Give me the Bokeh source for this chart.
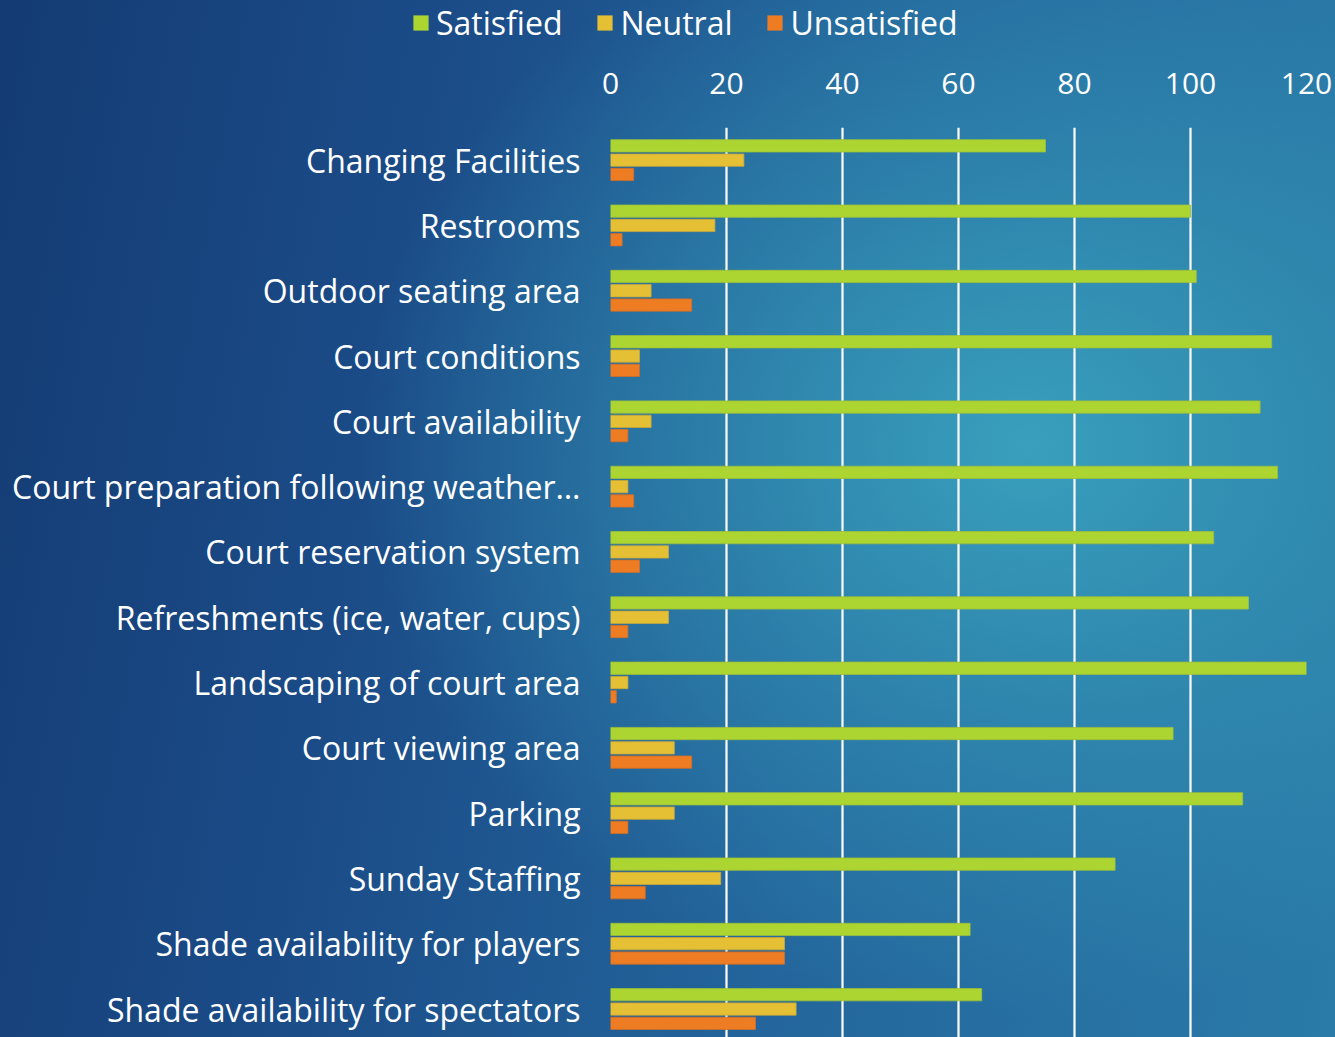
import numpy as np
from bokeh.plotting import figure
from bokeh.layouts import column
from bokeh.models import (ColumnDataSource, Range1d, FixedTicker, Legend, LegendItem,
                          GlobalInlineStyleSheet)
from bokeh.transform import dodge
from bokeh.embed import file_html
from bokeh.resources import INLINE

categories = [
    "Changing Facilities",
    "Restrooms",
    "Outdoor seating area",
    "Court conditions",
    "Court availability",
    "Court preparation following weather\u2026",
    "Court reservation system",
    "Refreshments (ice, water, cups)",
    "Landscaping of court area",
    "Court viewing area",
    "Parking",
    "Sunday Staffing",
    "Shade availability for players",
    "Shade availability for spectators",
]
satisfied = [75, 100, 101, 114, 112, 115, 104, 110, 120, 97, 109, 87, 62, 64]
neutral = [23, 18, 7, 5, 7, 3, 10, 10, 3, 11, 11, 19, 30, 32]
unsatisfied = [4, 2, 14, 5, 3, 4, 5, 3, 1, 14, 3, 6, 30, 25]
series_names = ["Satisfied", "Neutral", "Unsatisfied"]
series_cols = ["satisfied", "neutral", "unsatisfied"]
series_colors = ["#add532", "#e6c034", "#ee7c23"]
series_lines = ["#9cbf3a", "#c9a83a", "#cf6e2a"]
x_ticks = [0, 20, 40, 60, 80, 100, 120]

FONT = "Open Sans"
W, H = 1335, 1037
LEG_H = 50

bg = ("radial-gradient(ellipse 50% 55% at 77% 43%, rgba(58,162,190,0.95) 0%, "
      "rgba(52,150,182,0.55) 50%, rgba(45,130,170,0) 100%), "
      "linear-gradient(100deg, #143b73 0%, #1b4c88 30%, #23659c 62%, #2a7ba8 100%)")
css = GlobalInlineStyleSheet(css=(
    "html, body { margin: 0; padding: 0; overflow: hidden; width: 100%; height: 100%; "
    f"background: {bg}; }}"))

src = ColumnDataSource(dict(
    y=list(range(len(categories))),
    cat=categories,
    satisfied=satisfied,
    neutral=neutral,
    unsatisfied=unsatisfied,
))

# ---------------- legend strip ----------------
pl = figure(
    width=W, height=LEG_H, output_backend="svg", toolbar_location=None,
    x_range=Range1d(0, 1), y_range=Range1d(0, 1),
    min_border_left=0, min_border_right=0, min_border_top=0, min_border_bottom=0,
    background_fill_color=None, border_fill_color=None, outline_line_color=None,
    stylesheets=[css],
)
pl.frame_align = False
pl.axis.visible = False
pl.grid.visible = False
# off-screen bars used only as legend swatches
leg_renderers = [
    pl.hbar(y=2, right=0, left=0, height=0.5, fill_color=c, line_color=c, line_width=0)
    for c in series_colors
]
legend = Legend(
    items=[LegendItem(label=n, renderers=[r]) for n, r in zip(series_names, leg_renderers)],
    orientation="horizontal",
    location=(411, 6),
    label_text_color="white",
    label_text_font=FONT,
    label_text_font_size="32px",
    glyph_width=19, glyph_height=19,
    label_standoff=6,
    spacing=33,
    padding=0, margin=0,
    background_fill_alpha=0,
    border_line_color=None,
)
pl.add_layout(legend, "center")

# ---------------- main chart ----------------
p = figure(
    width=W, height=H - LEG_H,
    output_backend="svg", toolbar_location=None,
    x_range=Range1d(0, 120),
    y_range=Range1d(13.436, -0.5),
    x_axis_location="above",
    min_border_left=610, min_border_right=29, min_border_top=127 - LEG_H, min_border_bottom=0,
    background_fill_color=None, border_fill_color=None, outline_line_color=None,
)
p.frame_align = False

bh = 0.188
off = 0.219
offsets = [-off, 0, off]
for name, col, c, lc, o in zip(series_names, series_cols, series_colors, series_lines, offsets):
    p.hbar(y=dodge("y", o), right=col, left=0, height=bh, source=src,
           fill_color=c, line_color=lc, line_width=0.8, name=name)

xa = p.xaxis[0]
xa.ticker = FixedTicker(ticks=x_ticks)
xa.axis_line_color = None
xa.major_tick_line_color = None
xa.minor_tick_line_color = None
xa.major_tick_out = 0
xa.major_tick_in = 0
xa.major_label_text_color = "white"
xa.major_label_text_font = FONT
xa.major_label_text_font_size = "30px"
xa.major_label_standoff = 34

ya = p.yaxis[0]
ya.ticker = FixedTicker(ticks=list(range(len(categories))))
ya.major_label_overrides = {i: c for i, c in enumerate(categories)}
ya.axis_line_color = None
ya.major_tick_line_color = None
ya.minor_tick_line_color = None
ya.major_tick_out = 0
ya.major_tick_in = 0
ya.major_label_text_color = "white"
ya.major_label_text_font = FONT
ya.major_label_text_font_size = "32px"
ya.major_label_standoff = 30

p.ygrid.grid_line_color = None
p.xgrid.ticker = FixedTicker(ticks=x_ticks)
p.xgrid.grid_line_color = "white"
p.xgrid.grid_line_width = 2.2
p.xgrid.grid_line_alpha = 1.0

layout = column(pl, p, spacing=0)
open("out.html", "w").write(file_html(layout, INLINE))
